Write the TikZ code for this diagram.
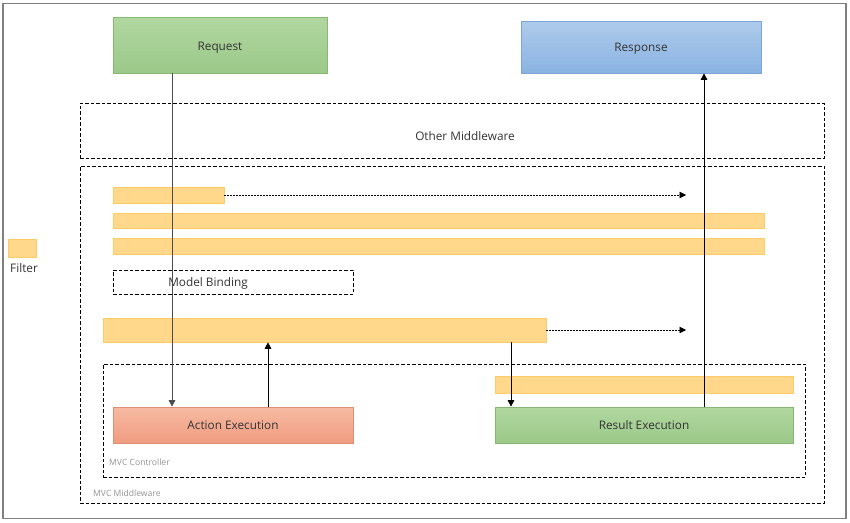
\documentclass[tikz,border=0pt]{standalone}
\usepackage{fontspec}
\setmainfont{Open Sans}
\usetikzlibrary{arrows.meta}
\definecolor{grnT}{HTML}{B0D79F}
\definecolor{grnB}{HTML}{9CC98A}
\definecolor{grnD}{HTML}{86B872}
\definecolor{bluT}{HTML}{AECBEB}
\definecolor{bluB}{HTML}{8AB3E2}
\definecolor{bluD}{HTML}{7AA5D6}
\definecolor{filF}{HTML}{FFD88C}
\definecolor{filD}{HTML}{FFCB66}
\definecolor{actT}{HTML}{F6BAA3}
\definecolor{actB}{HTML}{F09C80}
\definecolor{actD}{HTML}{DE8E72}
\definecolor{txt}{HTML}{333333}
\tikzset{
  mainfont/.style={font=\fontsize{11.8}{14}\selectfont},
  greenbox/.style={shading=axis, top color=grnT, bottom color=grnB, draw=grnD, line width=0.7pt, inner sep=0pt, text=txt, mainfont},
  bluebox/.style={shading=axis, top color=bluT, bottom color=bluB, draw=bluD, line width=0.7pt, inner sep=0pt, text=txt, mainfont},
  actbox/.style={shading=axis, top color=actT, bottom color=actB, draw=actD, line width=0.7pt, inner sep=0pt, text=txt, mainfont},
  filterbar/.style={fill=filF, draw=filD, line width=0.6pt, inner sep=0pt},
  dashbox/.style={draw=black, line width=0.7pt, dash pattern=on 3.5pt off 2pt, inner sep=0pt},
  smalllbl/.style={text=gray!85, font=\fontsize{8.6}{10}\selectfont, inner sep=0pt, anchor=west},
  lbl/.style={text=txt, mainfont, inner sep=0pt},
  arr/.style={line width=0.7pt, -{Triangle[length=6.5pt, width=6.5pt]}},
  dotarr/.style={line width=0.6pt, dash pattern=on 1.6pt off 1.4pt, -{Triangle[length=6.5pt, width=6.5pt]}},
}
\begin{document}
\begin{tikzpicture}[x=1pt,y=-1pt]
\useasboundingbox (0,0) rectangle (850,522);
\node[draw=gray, line width=1.2pt, minimum width=843pt, minimum height=515pt, inner sep=0pt] (frame) at (424.5,261) {};

\node[greenbox, minimum width=214pt, minimum height=56pt, text height=10.5pt, text depth=0pt] (req) at (220,45) {Request};
\node[bluebox, minimum width=240pt, minimum height=52pt, text height=8.6pt, text depth=0pt] (resp) at (641,47) {Response};

\node[dashbox, minimum width=744pt, minimum height=55pt] (other) at (452,130.5) {};
\node[lbl] (otherlbl) at (465,136.5) {Other Middleware};

\node[dashbox, minimum width=744pt, minimum height=337pt] (mvcmw) at (452,334.5) {};
\node[smalllbl] (mvcmwlbl) at (93,493) {MVC Middleware};

\node[filterbar, minimum width=111pt, minimum height=16pt] (f1) at (168.5,195) {};
\node[filterbar, minimum width=651pt, minimum height=15pt] (f2) at (438.5,220.5) {};
\node[filterbar, minimum width=651pt, minimum height=16pt] (f3) at (438.5,246) {};

\node[dashbox, minimum width=240pt, minimum height=24pt] (mb) at (233,282) {};
\node[lbl] (mblbl) at (208,283) {Model Binding};

\node[filterbar, minimum width=443pt, minimum height=24pt] (f4) at (324.5,330) {};

\node[dashbox, minimum width=702pt, minimum height=113pt] (ctrl) at (454,420.5) {};
\node[smalllbl] (ctrllbl) at (109,462) {MVC Controller};

\node[filterbar, minimum width=298pt, minimum height=17pt] (f5) at (644,384.5) {};
\node[actbox, minimum width=240pt, minimum height=36pt] (act) at (233,425) {Action Execution};
\node[greenbox, minimum width=298pt, minimum height=36pt] (res) at (644,425) {Result Execution};

\node[filterbar, minimum width=28pt, minimum height=18pt] (legend) at (22,248) {};
\node[lbl, anchor=west] (legendlbl) at (10,268) {Filter};

\coordinate (xa) at (172,0);
\coordinate (xb) at (268,0);
\coordinate (xc) at (511,0);
\coordinate (xd) at (704,0);
\coordinate (xe) at (686,0);

\draw[arr, draw=black!70] (req.south -| xa) -- (act.north -| xa);
\draw[arr] (act.north -| xb) -- (f4.south -| xb);
\draw[arr] (f4.south -| xc) -- (res.north -| xc);
\draw[arr] (res.north -| xd) -- (resp.south -| xd);
\draw[dotarr] (f1.east) -- (f1.east -| xe);
\draw[dotarr] (f4.east) -- (f4.east -| xe);
\end{tikzpicture}
\end{document}
